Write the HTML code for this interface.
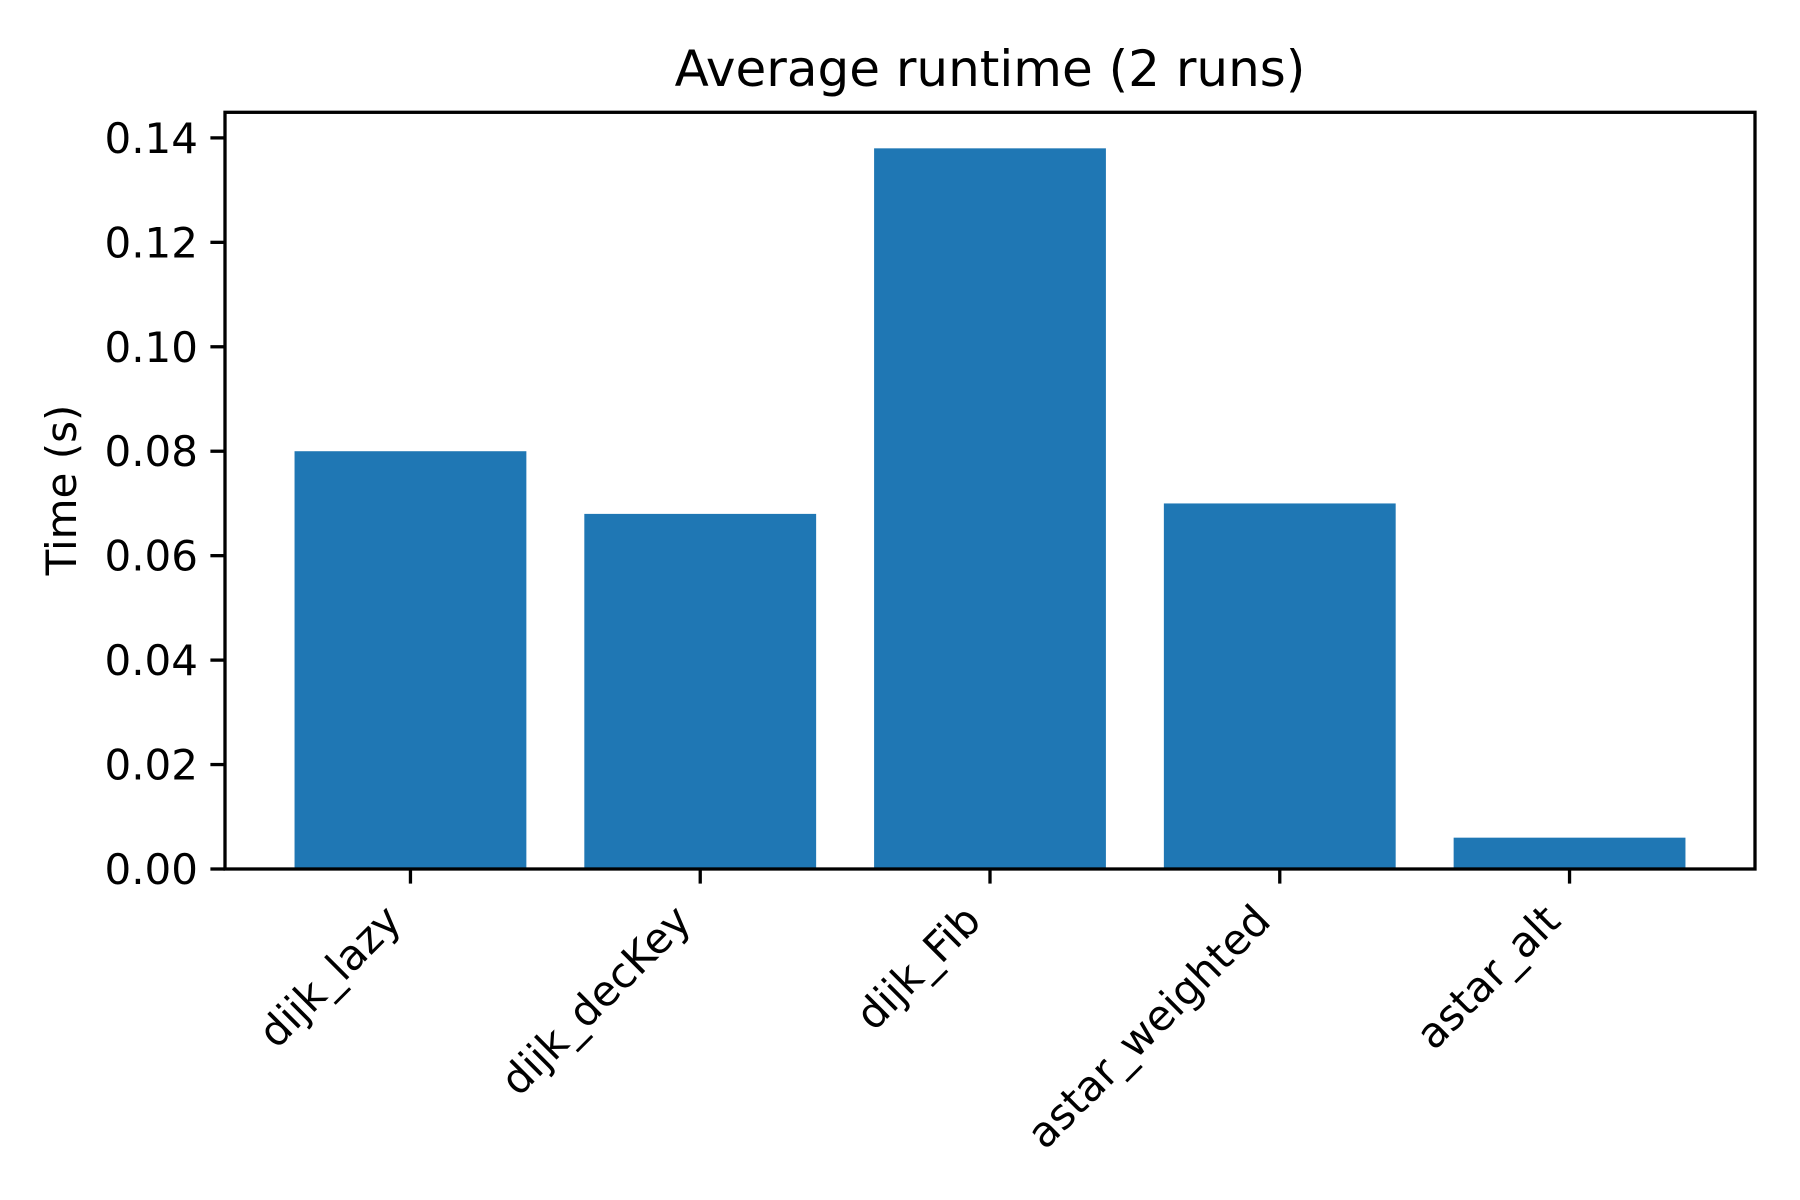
<!DOCTYPE html>
<html><head><meta charset="utf-8"><style>
html,body{margin:0;padding:0;background:#fff;}
svg{display:block;font-family:"DejaVu Sans","Liberation Sans",sans-serif;}
</style></head><body>
<svg id="chart" width="1800" height="1200" viewBox="0 0 1800 1200" xmlns="http://www.w3.org/2000/svg">
<rect x="0" y="0" width="1800" height="1200" fill="#fff"/>
<text x="990" y="86" font-size="50" text-anchor="middle">Average runtime (2 runs)</text>
<text transform="translate(76,490) rotate(-90)" font-size="42" text-anchor="middle">Time (s)</text>
<g id="bars"></g>
<g id="yticks"></g>
<g id="xticks"></g>
<rect x="225" y="112.3" width="1530" height="756.7" fill="none" stroke="#000" stroke-width="3.3"/>
</svg>
<script>
const categories = ["dijk_lazy","dijk_decKey","dijk_Fib","astar_weighted","astar_alt"];
const runtimes = [0.080, 0.068, 0.138, 0.070, 0.006];
const yTicks = [0.00,0.02,0.04,0.06,0.08,0.10,0.12,0.14];
const yTickLabels = ["0.00","0.02","0.04","0.06","0.08","0.10","0.12","0.14"];

const NS="http://www.w3.org/2000/svg";
const L=225,R=1755,T=112.3,B=869;
const xMin=-0.64,xMax=categories.length-1+0.64;
const yMax=Math.max(...runtimes)*1.05;
const xs=v=>L+(v-xMin)/(xMax-xMin)*(R-L);
const ys=v=>B-v/yMax*(B-T);
function mk(tag,attrs,parent){const e=document.createElementNS(NS,tag);for(const k in attrs)e.setAttribute(k,attrs[k]);parent.appendChild(e);return e;}
const gb=document.getElementById('bars'),gy=document.getElementById('yticks'),gx=document.getElementById('xticks');
runtimes.forEach((v,i)=>{
  const x0=xs(i-0.4),x1=xs(i+0.4);
  const r=mk('rect',{x:x0,y:ys(v),width:x1-x0,height:B-ys(v),fill:'#1f77b4'},gb);
  
  
});
yTicks.forEach((v,i)=>{
  const y=ys(v);
  const t=mk('line',{x1:L-14.6,x2:L,y1:y,y2:y,stroke:'#000','stroke-width':3.3},gy);
  
  
  const tx=mk('text',{x:L-27,y:y+15,'font-size':42,'text-anchor':'end'},gy);
  tx.textContent=yTickLabels[i];
  
  
});
categories.forEach((c,i)=>{
  const x=xs(i);
  const t=mk('line',{x1:x,x2:x,y1:B,y2:B+14.6,stroke:'#000','stroke-width':3.3},gx);
  
  
  const ax=x-7,ay=B+29+25;
  const tx=mk('text',{x:ax,y:ay,'font-size':42,'text-anchor':'end',transform:`rotate(-45 ${ax} ${ay})`},gx);
  tx.textContent=c;
  
  
});
</script>
</body></html>
